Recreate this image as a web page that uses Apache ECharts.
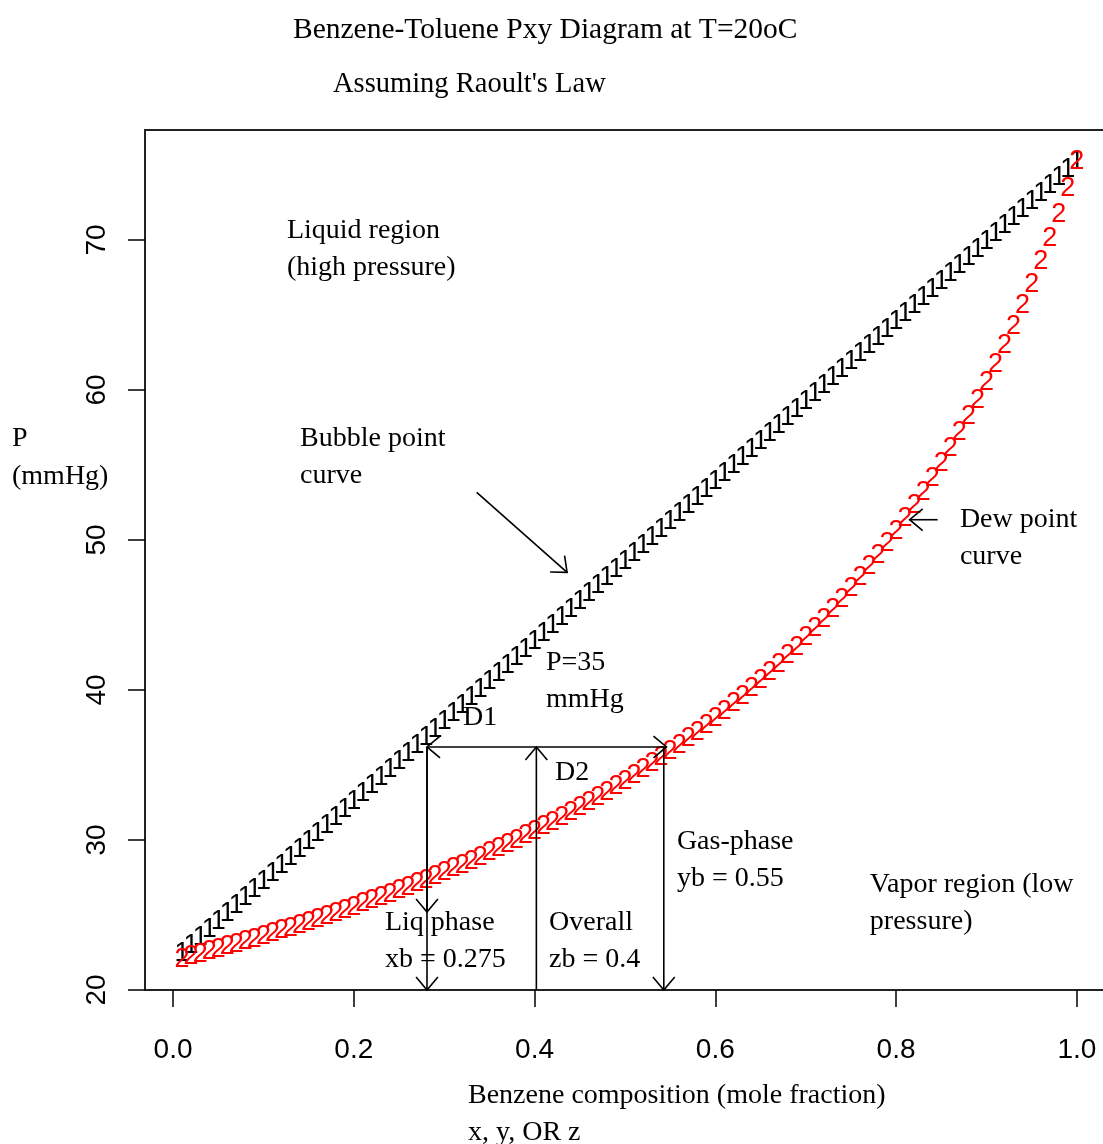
<!DOCTYPE html>
<html>
<head>
<meta charset="utf-8">
<script src="https://cdn.jsdelivr.net/npm/echarts@6.0.0/dist/echarts.min.js"></script>
<style>
  html, body { margin: 0; padding: 0; background: #fff; }
  #chart { width: 1103px; height: 1144px; }
</style>
</head>
<body>
<div id="chart"></div>
<script>
// benzene mole fraction (x grid shared by both curves)
const compX = [
  0.01,0.02,0.03,0.04,0.05,0.06,0.07,0.08,0.09,0.10,
  0.11,0.12,0.13,0.14,0.15,0.16,0.17,0.18,0.19,0.20,
  0.21,0.22,0.23,0.24,0.25,0.26,0.27,0.28,0.29,0.30,
  0.31,0.32,0.33,0.34,0.35,0.36,0.37,0.38,0.39,0.40,
  0.41,0.42,0.43,0.44,0.45,0.46,0.47,0.48,0.49,0.50,
  0.51,0.52,0.53,0.54,0.55,0.56,0.57,0.58,0.59,0.60,
  0.61,0.62,0.63,0.64,0.65,0.66,0.67,0.68,0.69,0.70,
  0.71,0.72,0.73,0.74,0.75,0.76,0.77,0.78,0.79,0.80,
  0.81,0.82,0.83,0.84,0.85,0.86,0.87,0.88,0.89,0.90,
  0.91,0.92,0.93,0.94,0.95,0.96,0.97,0.98,0.99,1.00
];
// bubble point pressure (mmHg) - plotted with "1"
const bubbleP = [
  22.43,22.97,23.50,24.03,24.57,25.10,25.63,26.16,26.70,27.23,
  27.76,28.30,28.83,29.36,29.90,30.43,30.96,31.49,32.03,32.56,
  33.09,33.63,34.16,34.69,35.23,35.76,36.29,36.82,37.36,37.89,
  38.42,38.96,39.49,40.02,40.56,41.09,41.62,42.15,42.69,43.22,
  43.75,44.29,44.82,45.35,45.89,46.42,46.95,47.48,48.02,48.55,
  49.08,49.62,50.15,50.68,51.22,51.75,52.28,52.81,53.35,53.88,
  54.41,54.95,55.48,56.01,56.55,57.08,57.61,58.14,58.68,59.21,
  59.74,60.28,60.81,61.34,61.88,62.41,62.94,63.47,64.01,64.54,
  65.07,65.61,66.14,66.67,67.21,67.74,68.27,68.80,69.34,69.87,
  70.40,70.94,71.47,72.00,72.54,73.07,73.60,74.13,74.67,75.20
];
// dew point pressure (mmHg) - plotted with "2"
const dewP = [
  22.06,22.22,22.38,22.54,22.71,22.87,23.04,23.22,23.39,23.57,
  23.75,23.94,24.12,24.31,24.51,24.70,24.90,25.10,25.31,25.52,
  25.73,25.95,26.17,26.39,26.62,26.85,27.08,27.32,27.57,27.81,
  28.07,28.32,28.59,28.85,29.13,29.40,29.69,29.97,30.27,30.57,
  30.87,31.18,31.50,31.83,32.16,32.49,32.84,33.19,33.55,33.92,
  34.30,34.68,35.08,35.48,35.89,36.31,36.75,37.19,37.64,38.10,
  38.58,39.07,39.57,40.08,40.61,41.15,41.71,42.28,42.86,43.47,
  44.09,44.72,45.38,46.06,46.75,47.47,48.21,48.98,49.77,50.58,
  51.42,52.29,53.19,54.12,55.09,56.09,57.13,58.20,59.32,60.48,
  61.69,62.94,64.25,65.62,67.04,68.53,70.08,71.71,73.41,75.20
];

const xTicks = [0, 0.2, 0.4, 0.6, 0.8, 1.0];
const yTicks = [20, 30, 40, 50, 60, 70];

// arrows: start (x0,p0) -> head at (x1,p1)
const arrowX0 = [0.336, 0.846, 0.402, 0.402, 0.402, 0.281, 0.281, 0.543];
const arrowP0 = [53.17, 51.35, 20.0, 36.2, 36.2, 36.2, 36.2, 36.2];
const arrowX1 = [0.436, 0.815, 0.402, 0.281, 0.546, 0.281, 0.281, 0.543];
const arrowP1 = [47.84, 51.35, 36.2, 36.2, 36.2, 20.0, 25.2, 20.0];

// text notes inside the plot (x, P of first line)
const noteX = [0.126, 0.1405, 0.8706, 0.4126, 0.3208, 0.4226, 0.5575, 0.771, 0.2345, 0.416];
const noteP = [70.62, 56.75, 51.35, 41.82, 38.15, 34.49, 29.89, 27.02, 24.49, 24.49];
const noteText = [
  'Liquid region\n(high pressure)',
  'Bubble point\ncurve',
  'Dew point\ncurve',
  'P=35\nmmHg',
  'D1',
  'D2',
  'Gas-phase\nyb = 0.55',
  'Vapor region (low\npressure)',
  'Liq phase\nxb = 0.275',
  'Overall\nzb = 0.4'
];

const SERIF = '"Liberation Serif", "Times New Roman", serif';
const SANS = '"Liberation Sans", Arial, sans-serif';

function glyphSeries(name, xs, ps, ch, color) {
  return {
    type: 'custom',
    name: name,
    coordinateSystem: 'cartesian2d',
    silent: true,
    data: xs.map((x, i) => [x, ps[i]]),
    renderItem: function (params, api) {
      const pt = api.coord([api.value(0), api.value(1)]);
      return {
        type: 'text',
        x: pt[0], y: pt[1],
        style: {
          text: ch, fill: color,
          fontFamily: SANS, fontSize: 27,
          align: 'center', verticalAlign: 'middle'
        }
      };
    }
  };
}

const chart = echarts.init(document.getElementById('chart'));
chart.setOption({
  animation: false,
  backgroundColor: '#fff',
  grid: {
    left: 145, top: 130, width: 968, height: 860,
    show: true, borderColor: '#222', borderWidth: 2,
    outerBoundsMode: 'none', containLabel: false
  },
  xAxis: {
    type: 'value', min: -0.031, max: 1.04,
    splitLine: { show: false },
    axisLine: { show: false, onZero: false },
    axisTick: { show: true, customValues: xTicks, length: 17, lineStyle: { color: '#000', width: 1.5 } },
    axisLabel: {
      customValues: xTicks, margin: 46,
      formatter: v => v.toFixed(1),
      color: '#000', fontFamily: SANS, fontSize: 28
    }
  },
  yAxis: {
    type: 'value', min: 20, max: 77.33,
    splitLine: { show: false },
    axisLine: { show: false, onZero: false },
    axisTick: { show: true, customValues: yTicks, length: 17, lineStyle: { color: '#000', width: 1.5 } },
    axisLabel: {
      customValues: yTicks, margin: 34, rotate: 90,
      formatter: v => String(Math.round(v)),
      color: '#000', fontFamily: SANS, fontSize: 28
    }
  },
  graphic: [
    { type: 'text', left: 293, top: 15, style: { text: 'Benzene-Toluene Pxy Diagram at T=20oC', fill: '#000', fontFamily: SERIF, fontSize: 29.5 } },
    { type: 'text', left: 333, top: 70, style: { text: "Assuming Raoult's Law", fill: '#000', fontFamily: SERIF, fontSize: 28.5 } },
    { type: 'text', left: 12, top: 420, style: { text: 'P\n(mmHg)', fill: '#000', fontFamily: SERIF, fontSize: 28, lineHeight: 38 } },
    { type: 'text', left: 468, top: 1077, style: { text: 'Benzene composition (mole fraction)\nx, y, OR z', fill: '#000', fontFamily: SERIF, fontSize: 28, lineHeight: 37 } }
  ],
  series: [
    glyphSeries('Bubble point', compX, bubbleP, '1', '#000'),
    glyphSeries('Dew point', compX, dewP, '2', '#ff0000'),
    {
      type: 'custom',
      name: 'arrows',
      coordinateSystem: 'cartesian2d',
      silent: true,
      data: arrowX0.map((x, i) => [x, arrowP0[i], arrowX1[i], arrowP1[i]]),
      renderItem: function (params, api) {
        const a = api.coord([api.value(0), api.value(1)]);
        const b = api.coord([api.value(2), api.value(3)]);
        const ang = Math.atan2(b[1] - a[1], b[0] - a[0]);
        const L = 17, t = Math.PI / 4.5;
        const arm1 = [b[0] - L * Math.cos(ang - t), b[1] - L * Math.sin(ang - t)];
        const arm2 = [b[0] - L * Math.cos(ang + t), b[1] - L * Math.sin(ang + t)];
        return {
          type: 'group',
          children: [
            { type: 'line', shape: { x1: a[0], y1: a[1], x2: b[0], y2: b[1] }, style: { stroke: '#000', lineWidth: 1.6 } },
            { type: 'polyline', shape: { points: [arm1, b, arm2] }, style: { stroke: '#000', fill: null, lineWidth: 1.6 } }
          ]
        };
      }
    },
    {
      type: 'custom',
      name: 'notes',
      coordinateSystem: 'cartesian2d',
      silent: true,
      data: noteX.map((x, i) => [x, noteP[i], i]),
      renderItem: function (params, api) {
        const pt = api.coord([api.value(0), api.value(1)]);
        return {
          type: 'text',
          x: pt[0], y: pt[1] - 18.5,
          style: {
            text: noteText[api.value(2)], fill: '#000',
            fontFamily: SERIF, fontSize: 28, lineHeight: 37,
            align: 'left', verticalAlign: 'top'
          }
        };
      }
    }
  ]
});
</script>
</body>
</html>
